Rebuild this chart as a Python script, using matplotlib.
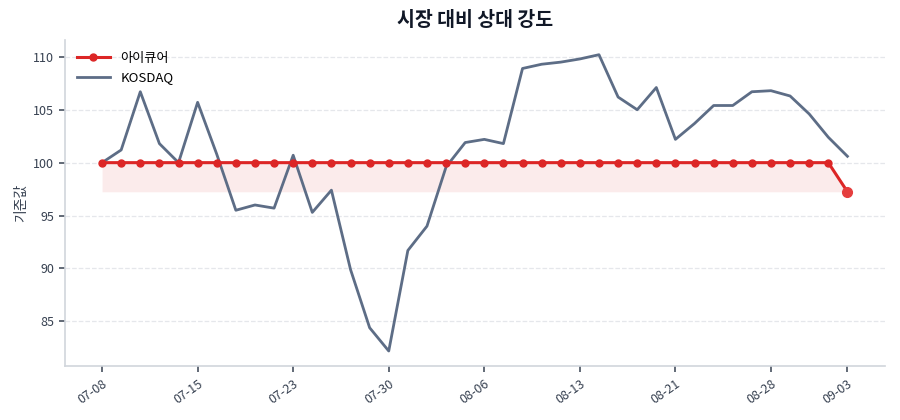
import matplotlib
matplotlib.use("Agg")
import matplotlib.pyplot as plt
import numpy as np

plt.rcParams['font.family'] = ['Noto Sans CJK KR', 'DejaVu Sans']

dates = ["07-08", "07-09", "07-10", "07-11", "07-14", "07-15", "07-16", "07-17", "07-18", "07-21",
         "07-23", "07-24", "07-25", "07-28", "07-29", "07-30", "07-31", "08-01", "08-04", "08-05",
         "08-06", "08-07", "08-08", "08-11", "08-12", "08-13", "08-14", "08-18", "08-19", "08-20",
         "08-21", "08-22", "08-25", "08-26", "08-27", "08-28", "08-29", "09-01", "09-02", "09-03"]

stock = [100.0] * 39 + [97.25]

kosdaq = [100.0, 101.2, 106.7, 101.8, 100.0, 105.7, 100.8, 95.5, 96.0, 95.7,
          100.7, 95.3, 97.4, 89.9, 84.4, 82.2, 91.7, 94.0, 99.6, 101.9,
          102.2, 101.8, 108.9, 109.3, 109.5, 109.8, 110.2, 106.2, 105.0, 107.1,
          102.2, 103.7, 105.4, 105.4, 106.7, 106.8, 106.3, 104.6, 102.4, 100.6]

stock_name = "아이큐어"
index_name = "KOSDAQ"
title = "시장 대비 상대 강도"
ylabel = "기준값"

x = np.arange(len(dates))
stock_arr = np.array(stock)

fig = plt.figure(figsize=(9, 4.2), dpi=100)
ax = fig.add_axes([0.072, 0.129, 0.911, 0.776])

red = "#dc2626"
slate = "#5d6d86"

ax.fill_between(x, stock_arr, stock_arr.min(), color=red, alpha=0.09, linewidth=0)
ax.plot(x, stock_arr, color=red, linewidth=2.2, marker='o', markersize=5, label=stock_name, zorder=3)
ax.plot(x[-1], stock_arr[-1], 'o', color="#e53e3e", markersize=7, zorder=4)
ax.plot(x, kosdaq, color=slate, linewidth=2, label=index_name, zorder=2)

tick_idx = list(range(0, len(dates), 5))
if tick_idx[-1] != len(dates) - 1:
    tick_idx.append(len(dates) - 1)
ax.set_xticks(tick_idx)
ax.set_xticklabels([dates[i] for i in tick_idx], rotation=35, ha='right', rotation_mode='anchor')
ax.set_yticks([85, 90, 95, 100, 105, 110])

ax.grid(axis='y', linestyle='--', color='#e5e7eb', linewidth=0.9)
ax.set_axisbelow(True)
for s in ['top', 'right']:
    ax.spines[s].set_visible(False)
for s in ['left', 'bottom']:
    ax.spines[s].set_color('#d1d5db')
    ax.spines[s].set_linewidth(1.2)
ax.tick_params(axis='both', colors='#374151', labelsize=9, length=4, width=1.1)
ax.tick_params(axis='x', pad=4)

ax.set_title(title, fontsize=14, fontweight='bold', color='#111827', pad=10)
ax.set_ylabel(ylabel, fontsize=10, color='#374151')

leg = ax.legend(loc='upper left', frameon=False, fontsize=9.5, handlelength=2.5)

fig.savefig("out.png", dpi=100)
